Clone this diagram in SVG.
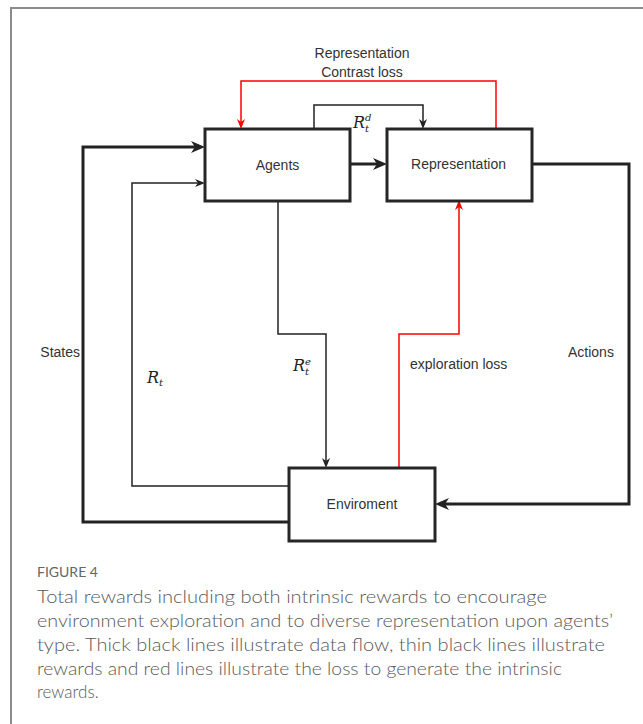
<svg xmlns="http://www.w3.org/2000/svg" width="643" height="724" viewBox="0 0 643 724">
  <style>
    .frame { fill: none; stroke: #8c8c8c; stroke-width: 2; }
    .box { fill: #ffffff; stroke: #262626; stroke-width: 3; }
    .label { font-family: "Liberation Sans", Arial, sans-serif; font-size: 14px; fill: #333333; }
    .math { font-family: "DejaVu Serif", "Liberation Serif", serif; font-style: italic; fill: #222222; }
    .thick { fill: none; stroke: #222222; stroke-width: 3; }
    .thin { fill: none; stroke: #222222; stroke-width: 1.5; }
    .loss { fill: none; stroke: #ff0000; stroke-width: 1.5; }
    .cap-title { font-family: Lato, "Open Sans", sans-serif; font-size: 14px; fill: #666666; }
    .cap { font-family: Lato, "Open Sans", sans-serif; font-size: 17px; font-weight: 300; fill: #5a5a5a; }
  </style>
  <defs>
    <marker id="arrow-thick" viewBox="0 0 14 12" refX="4" refY="6" markerWidth="14" markerHeight="12" markerUnits="userSpaceOnUse" orient="auto">
      <path d="M0,0 L14,6 L0,12 L4,6 Z" fill="#222222"/>
    </marker>
    <marker id="arrow-thin" viewBox="0 0 10 8" refX="3" refY="4" markerWidth="10" markerHeight="8" markerUnits="userSpaceOnUse" orient="auto">
      <path d="M0,0 L10,4 L0,8 L3,4 Z" fill="#222222"/>
    </marker>
    <marker id="arrow-red" viewBox="0 0 10 8" refX="3" refY="4" markerWidth="10" markerHeight="8" markerUnits="userSpaceOnUse" orient="auto">
      <path d="M0,0 L10,4 L0,8 L3,4 Z" fill="#ff0000"/>
    </marker>
  </defs>

  <rect width="643" height="724" fill="#ffffff"/>
  <!-- figure panel border (top and left edges) -->
  <path class="frame" d="M11,724 V8 H643"/>

  <!-- connectors -->
  <g id="connectors">
    <!-- States: Enviroment -> Agents -->
    <path class="thick" d="M289,522 H83 V147 H195" marker-end="url(#arrow-thick)"/>
    <!-- R_t: Enviroment -> Agents -->
    <path class="thin" d="M289,486 H132 V183 H198" marker-end="url(#arrow-thin)"/>
    <!-- R_t^e: Agents -> Enviroment -->
    <path class="thin" d="M278,201 V334 H326 V461" marker-end="url(#arrow-thin)"/>
    <!-- Agents -> Representation -->
    <path class="thick" d="M350,164 H377" marker-end="url(#arrow-thick)"/>
    <!-- R_t^d: Agents -> Representation -->
    <path class="thin" d="M314,129 V105 H423 V122" marker-end="url(#arrow-thin)"/>
    <!-- Representation contrast loss -->
    <path class="loss" d="M496,129 V81 H241 V122" marker-end="url(#arrow-red)"/>
    <!-- exploration loss -->
    <path class="loss" d="M399,468 V334 H459 V207" marker-end="url(#arrow-red)"/>
    <!-- Actions: Representation -> Enviroment -->
    <path class="thick" d="M532,164 H629 V504 H445" marker-end="url(#arrow-thick)"/>
  </g>

  <!-- nodes -->
  <g id="agents">
    <rect class="box" x="205" y="129" width="145" height="72"/>
    <text class="label" x="277.5" y="170" text-anchor="middle">Agents</text>
  </g>
  <g id="representation">
    <rect class="box" x="387" y="129" width="145" height="72"/>
    <text class="label" x="458.5" y="169" text-anchor="middle">Representation</text>
  </g>
  <g id="enviroment">
    <rect class="box" x="289" y="468" width="146" height="73"/>
    <text class="label" x="362" y="509" text-anchor="middle">Enviroment</text>
  </g>

  <!-- edge labels -->
  <g id="edge-labels">
    <text class="label" x="362" y="58" text-anchor="middle">Representation</text>
    <text class="label" x="362" y="77" text-anchor="middle">Contrast loss</text>
    <text class="label" x="80" y="357" text-anchor="end">States</text>
    <text class="label" x="568" y="357">Actions</text>
    <text class="label" x="410" y="369">exploration loss</text>
    <text class="math" x="147" y="383" font-size="16">R<tspan font-size="10" dy="3">t</tspan></text>
    <text class="math" x="293" y="371" font-size="16">R</text>
    <text class="math" x="305" y="365" font-size="10">e</text>
    <text class="math" x="305" y="375" font-size="10">t</text>
    <text class="math" x="353" y="128" font-size="16">R</text>
    <text class="math" x="365" y="121" font-size="10">d</text>
    <text class="math" x="365" y="132" font-size="10">t</text>
  </g>

  <!-- caption -->
  <g id="caption">
    <text class="cap-title" x="37" y="577">FIGURE 4</text>
    <text class="cap" x="37" y="603" textLength="510" lengthAdjust="spacingAndGlyphs">Total rewards including both intrinsic rewards to encourage</text>
    <text class="cap" x="37" y="627" textLength="576" lengthAdjust="spacingAndGlyphs">environment exploration and to diverse representation upon agents’</text>
    <text class="cap" x="37" y="651" textLength="568" lengthAdjust="spacingAndGlyphs">type. Thick black lines illustrate data flow, thin black lines illustrate</text>
    <text class="cap" x="37" y="675" textLength="525" lengthAdjust="spacingAndGlyphs">rewards and red lines illustrate the loss to generate the intrinsic</text>
    <text class="cap" x="37" y="698">rewards.</text>
  </g>
</svg>
